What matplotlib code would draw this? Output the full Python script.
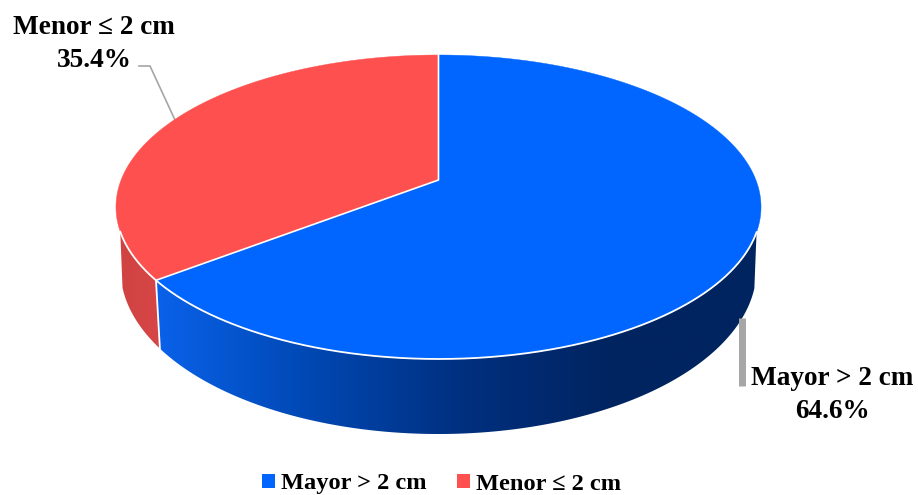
#!/usr/bin/env python3
"""Tilted 3D-look pie: tumour size split, with gradient side wall."""

import matplotlib

matplotlib.use("Agg")
import matplotlib.pyplot as plt
import numpy as np
from matplotlib.colors import LinearSegmentedColormap
from matplotlib.patches import Patch, Polygon

categories = ["Mayor > 2 cm", "Menor ≤ 2 cm"]
shares = [64.6, 35.4]
top_colors = ["#0066FF", "#FF5050"]

W, H = 918, 495
CX = 438.5
K = -0.1776  # perspective term
TOP = dict(a=317.4, b=147.2, y0=180.0)
BOTTOM = dict(a=313.0, b=159.8, y0=239.7)
RIM_Y = 232  # wall only starts below this on the top rim
FOOT_Y = 288  # straight outer wall edge ends here on the bottom rim
FONT = "Liberation Serif"


def project(theta, a, b, y0):
    """theta clockwise from 12 o'clock, in radians, to pixel coords."""
    u, v = np.sin(theta), -np.cos(theta)
    w = 1 + K * v
    return CX + a * u / w, y0 + b * v / w


def wall(ax, top_t0, top_t1, bot_t0, bot_t1, cmap, x0, x1):
    xt, yt = project(np.linspace(top_t0, top_t1, 300), **TOP)
    xb, yb = project(np.linspace(bot_t1, bot_t0, 300), **BOTTOM)
    poly = Polygon(np.c_[np.r_[xt, xb], np.r_[yt, yb]], closed=True,
                   transform=ax.transData, fc="none", ec="none")
    ax.add_patch(poly)
    im = ax.imshow(np.linspace(0, 1, 256)[None, :], cmap=cmap, aspect="auto",
                   extent=(x0, x1, 440, 200), zorder=1)
    im.set_clip_path(poly)


fig = plt.figure(figsize=(W / 100, H / 100), dpi=100)
ax = fig.add_axes([0, 0, 1, 1])

# slice angles, blue starts at 12 o'clock and runs clockwise
split = np.radians(shares[0] * 3.6)
ts = np.linspace(0, 2 * np.pi, 2000)
_, yb_all = project(ts, **BOTTOM)
_, yt_all = project(ts, **TOP)
b_right = ts[np.argmax(yb_all[:1000] >= FOOT_Y)]
b_left = ts[1000 + np.argmax(yb_all[1000:] < FOOT_Y)]
t_right = ts[np.argmax(yt_all[:1000] >= RIM_Y)]
t_left = ts[1000 + np.argmax(yt_all[1000:] < RIM_Y)]

blue_cmap = LinearSegmentedColormap.from_list(
    "blue_wall", ["#0A62EA", "#0048B4", "#003080", "#00245F", "#00245F"])
red_cmap = LinearSegmentedColormap.from_list(
    "red_wall", ["#CF4343", "#D84646"])
wall(ax, t_right, split, b_right, split, blue_cmap, 155, 765)
wall(ax, split, t_left, split, b_left, red_cmap, 115, 165)

# divider on the wall
xa, ya = project(split, **TOP)
xb, yb = project(split, **BOTTOM)
ax.plot([xa, xb], [ya, yb], color="white", lw=1.3, zorder=3)

# top face
angles = [(0.0, split), (split, 2 * np.pi)]
for (a0, a1), c in zip(angles, top_colors):
    t = np.linspace(a0, a1, 400)
    x, y = project(t, **TOP)
    xs = np.r_[CX, x]
    ys = np.r_[TOP["y0"], y]
    ax.add_patch(Polygon(np.c_[xs, ys], closed=True, fc=c, ec=c, lw=0.3, zorder=4))

# white edges: slice spokes and the front rim
x, y = project(np.array([0.0, split]), **TOP)
ax.plot([x[0], CX, x[1]], [y[0], TOP["y0"], y[1]], color="white", lw=1.2, zorder=5)
t = np.linspace(t_right, t_left, 600)
x, y = project(t, **TOP)
ax.plot(x, y, color="white", lw=1.3, zorder=5)

# leader lines
ax.plot([139, 150, 175], [66, 66, 120], color="#A6A6A6", lw=1.2, zorder=2)
ax.plot([741.5, 741.5], [318, 386], color="#A6A6A6", lw=5.0, solid_capstyle="butt", zorder=2)

# data labels
label_kw = dict(ha="center", va="center", family=FONT, weight="bold",
                fontsize=19.6, color="black", linespacing=1.42)
ax.text(94, 44, f"{categories[1]}\n{shares[1]}%", **label_kw)
ax.text(832, 395, f"{categories[0]}\n{shares[0]}%", **label_kw)

handles = [Patch(fc=c, ec="none") for c in top_colors]
ax.legend(handles, categories, ncol=2, loc="center", bbox_to_anchor=(441.5 / W, 1 - 484 / H),
          frameon=False, prop=dict(family=FONT, weight="bold", size=17.6),
          handlelength=0.53, handleheight=0.53, handletextpad=0.26, columnspacing=1.25,
          borderpad=0, borderaxespad=0)

ax.set_xlim(0, W)
ax.set_ylim(H, 0)
ax.axis("off")
fig.savefig("out.png", dpi=100)
